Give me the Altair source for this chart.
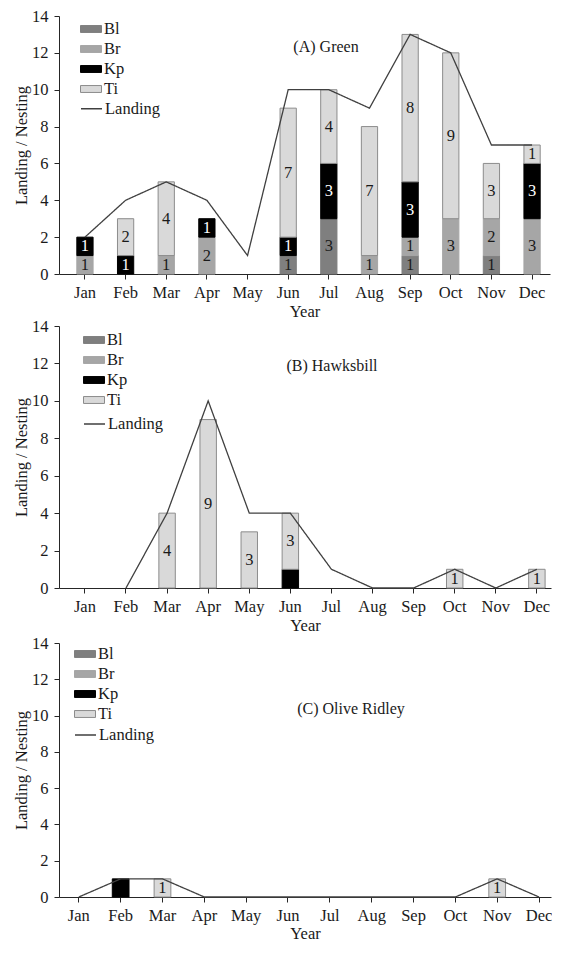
import altair as alt
import pandas as pd

months = ["Jan", "Feb", "Mar", "Apr", "May", "Jun", "Jul", "Aug", "Sep", "Oct", "Nov", "Dec"]
species = ["Bl", "Br", "Kp", "Ti"]
species_fill = ["#7f7f7f", "#a6a6a6", "#000000", "#d9d9d9"]
species_stroke = ["#7f7f7f", "#a6a6a6", "#000000", "#8c8c8c"]

# (A) Green
green_bl = [0, 0, 0, 0, 0, 1, 3, 0, 1, 0, 1, 0]
green_br = [1, 0, 1, 2, 0, 0, 0, 1, 1, 3, 2, 3]
green_kp = [1, 1, 0, 1, 0, 1, 3, 0, 3, 0, 0, 3]
green_ti = [0, 2, 4, 0, 0, 7, 4, 7, 8, 9, 3, 1]
green_landing = [2, 4, 5, 4, 1, 10, 10, 9, 13, 12, 7, 7]

# (B) Hawksbill
hawk_bl = [0] * 12
hawk_br = [0] * 12
hawk_kp = [0, 0, 0, 0, 0, 1, 0, 0, 0, 0, 0, 0]
hawk_ti = [0, 0, 4, 9, 3, 3, 0, 0, 0, 1, 0, 1]
hawk_landing = [None, 0, 4, 10, 4, 4, 1, 0, 0, 1, 0, 1]

# (C) Olive Ridley
olive_bl = [0] * 12
olive_br = [0] * 12
olive_kp = [0, 1, 0, 0, 0, 0, 0, 0, 0, 0, 0, 0]
olive_ti = [0, 0, 1, 0, 0, 0, 0, 0, 0, 0, 1, 0]
olive_landing = [0, 1, 1, 0, 0, 0, 0, 0, 0, 0, 1, 0]

FONT = "Liberation Serif"
FS = 16.5
TXT = "#1a1a1a"
AX = "#262626"
LINE = "#404040"


def panel(bl, br, kp, ti, landing, unlabelled, width, height, x_outer, x_align,
          title, title_xy, legend_x, legend_y, legend_y2, row_pad, x_label_pad, x_title_pad):
    rows = []
    for i, m in enumerate(months):
        base = 0
        for sp, vals in zip(species, [bl, br, kp, ti]):
            v = vals[i]
            if v > 0:
                rows.append({
                    "month": m, "species": sp, "y0": base, "y1": base + v,
                    "mid": base + v / 2,
                    "label": "" if sp in unlabelled else str(v),
                })
            base += v
    bars_df = pd.DataFrame(rows)
    line_df = pd.DataFrame({"month": months, "landing": landing, "series": ["Landing"] * 12})

    xs = alt.Scale(domain=months, paddingInner=0.6, paddingOuter=x_outer, align=x_align)
    xaxis = alt.Axis(title="Year", labelAngle=0, labelFont=FONT, labelFontSize=FS,
                     labelColor=TXT, titleFont=FONT, titleFontSize=FS,
                     titleFontWeight="normal", titleColor=TXT, tickSize=5,
                     tickColor=AX, domainColor=AX, labelPadding=x_label_pad,
                     titlePadding=x_title_pad, labelOverlap=False)
    ys = alt.Scale(domain=[0, 14], nice=False)
    yaxis = alt.Axis(title="Landing / Nesting", values=list(range(0, 15, 2)), grid=False,
                     labelFont=FONT, labelFontSize=FS, labelColor=TXT, titleFont=FONT,
                     titleFontSize=FS, titleFontWeight="normal", titleColor=TXT, tickSize=5,
                     tickColor=AX, domainColor=AX, labelPadding=6, titlePadding=2,
                     labelOverlap=False, labelFlush=False)

    def X():
        return alt.X("month:N", sort=months, scale=xs, axis=xaxis)

    leg = dict(title=None, orient="none", legendX=legend_x, legendY=legend_y,
               symbolType="M-1,-0.33H1V0.33H-1Z", symbolSize=441, symbolStrokeWidth=1,
               labelFont=FONT, labelFontSize=FS, labelColor=TXT, rowPadding=row_pad,
               labelOffset=2, padding=0)

    bars = alt.Chart(bars_df).mark_bar(strokeWidth=1).encode(
        x=X(),
        y=alt.Y("y0:Q", scale=ys, axis=yaxis),
        y2="y1:Q",
        fill=alt.Fill("species:N", scale=alt.Scale(domain=species, range=species_fill),
                      legend=alt.Legend(**leg)),
        stroke=alt.Stroke("species:N", scale=alt.Scale(domain=species, range=species_stroke),
                          legend=alt.Legend(**leg)),
    )
    labels = alt.Chart(bars_df).mark_text(font=FONT, fontSize=FS, baseline="middle").encode(
        x=X(),
        y=alt.Y("mid:Q", scale=ys, axis=yaxis),
        text="label:N",
        color=alt.condition(alt.datum.species == "Kp", alt.value("#ffffff"), alt.value(TXT)),
    )
    line = alt.Chart(line_df).mark_line(color=LINE, strokeWidth=1.3).encode(
        x=X(),
        y=alt.Y("landing:Q", scale=ys, axis=yaxis),
        strokeDash=alt.StrokeDash("series:N", scale=alt.Scale(domain=["Landing"], range=[[1, 0]]),
                                  legend=alt.Legend(title=None, orient="none",
                                                    legendX=legend_x, legendY=legend_y2,
                                                    symbolType="stroke", symbolSize=441,
                                                    symbolStrokeColor=LINE,
                                                    symbolStrokeWidth=1.3,
                                                    labelFont=FONT, labelFontSize=FS,
                                                    labelColor=TXT, labelOffset=2, padding=0)),
    )
    ttl = alt.Chart(pd.DataFrame({"t": [title]})).mark_text(
        font=FONT, fontSize=16, color=TXT, align="center", baseline="middle").encode(
        text="t:N", x=alt.value(title_xy[0]), y=alt.value(title_xy[1]))
    return alt.layer(bars, line, labels, ttl).properties(width=width, height=height)


pA = panel(green_bl, green_br, green_kp, green_ti, green_landing, set(), 491, 258, 0.34, 0.645,
           "(A) Green", (267, 31), 21, 2, 81.25, -1, 5, 3)
pB = panel(hawk_bl, hawk_br, hawk_kp, hawk_ti, hawk_landing, {"Kp"}, 492, 262, 0.287, 0.75,
           "(B) Hawksbill", (273, 40), 24, 3, 86.5, 0, 5, 3)
pC = panel(olive_bl, olive_br, olive_kp, olive_ti, olive_landing, {"Kp"}, 492, 254, 0.18, 0.76,
           "(C) Olive Ridley", (292, 66), 15, 0, 80.5, -0.5, 5, 2)

indep = dict(fill="independent", stroke="independent", strokeDash="independent")
top = alt.concat(pA, pB, columns=1, spacing=-2).resolve_scale(**indep).resolve_legend(
    fill="independent", stroke="independent", strokeDash="independent")
chart = alt.concat(top, pC, columns=1, spacing=1).resolve_scale(**indep).resolve_legend(
    fill="independent", stroke="independent", strokeDash="independent").properties(
    padding={"left": 5, "top": 0, "right": 0, "bottom": 0}
).configure_view(stroke=None)

chart.save("out.html", embed_options={"renderer": "svg", "actions": False})
